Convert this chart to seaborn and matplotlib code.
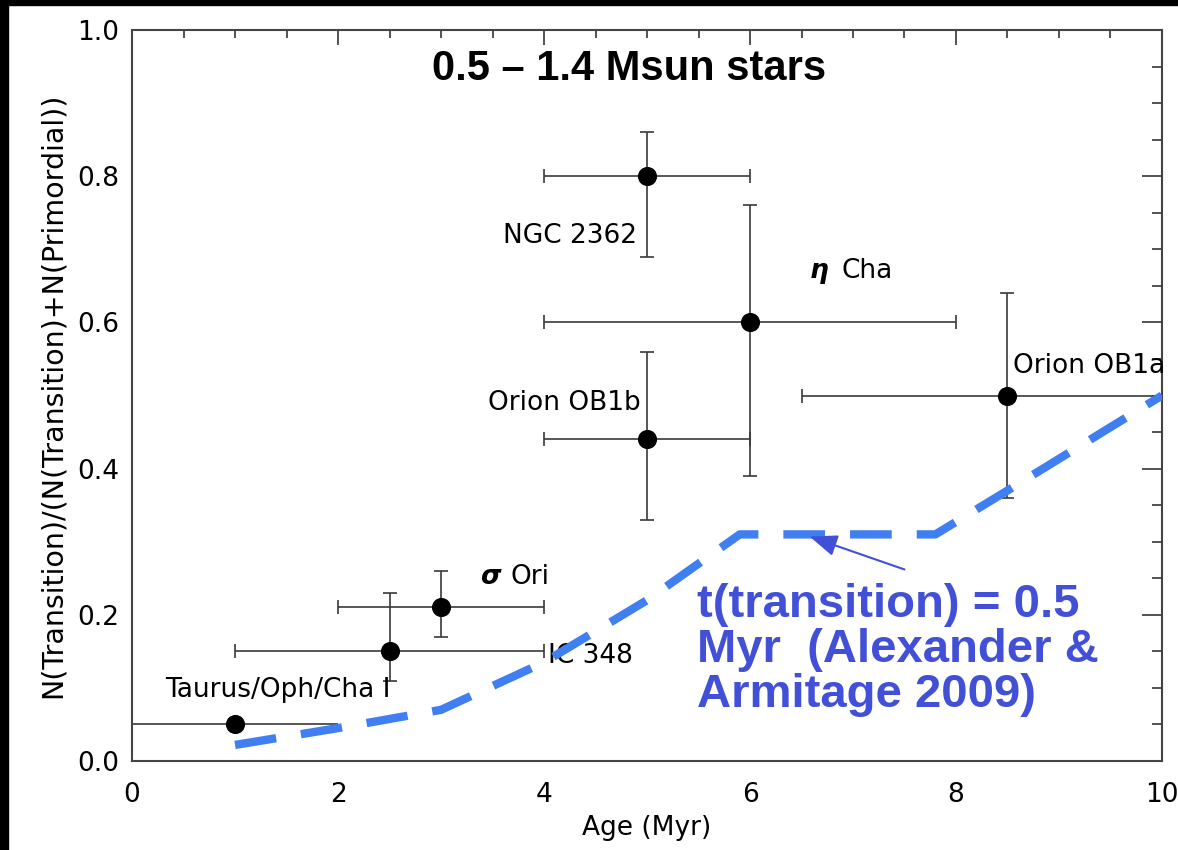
import matplotlib
matplotlib.use("Agg")
import matplotlib.pyplot as plt
from matplotlib.patches import Rectangle
from matplotlib.ticker import MultipleLocator
import seaborn as sns
import pandas as pd

# Observed clusters: age (Myr), transition-disk fraction and uncertainties
clusters = ["Taurus/Oph/Cha I", "IC 348", "σ Ori", "NGC 2362", "η Cha", "Orion OB1b", "Orion OB1a"]
age = [1.0, 2.5, 3.0, 5.0, 6.0, 5.0, 8.5]
frac = [0.05, 0.15, 0.21, 0.80, 0.60, 0.44, 0.50]
age_err = [1.0, 1.5, 1.0, 1.0, 2.0, 1.0, 2.0]
frac_err_lo = [0.008, 0.04, 0.04, 0.11, 0.21, 0.11, 0.14]
frac_err_hi = [0.008, 0.08, 0.05, 0.06, 0.16, 0.12, 0.14]

# Model curve for a 0.5 Myr transition timescale
model_age = [1.0, 2.0, 3.0, 4.0, 5.0, 5.9, 7.8, 8.5, 10.0]
model_frac = [0.022, 0.045, 0.07, 0.135, 0.22, 0.31, 0.31, 0.37, 0.50]

obs = pd.DataFrame({"cluster": clusters, "age": age, "frac": frac})
model = pd.DataFrame({"age": model_age, "frac": model_frac})

sns.set_theme(style="white")
plt.rcParams["font.family"] = ["DejaVu Sans"]
plt.rcParams["text.color"] = "black"
plt.rcParams["axes.labelcolor"] = "black"

fig = plt.figure(figsize=(11.78, 8.5), dpi=100, facecolor="white")
ax = fig.add_axes([0.1121, 0.1047, 0.8743, 0.8600])

err_col = "#3a3a3a"
# Taurus: horizontal bar without caps, small vertical bar with caps
ax.errorbar(age[0], frac[0], xerr=age_err[0], fmt="none", ecolor=err_col,
            elinewidth=1.2, capsize=0, zorder=2)
ax.errorbar(age[0], frac[0], yerr=[[frac_err_lo[0]], [frac_err_hi[0]]], fmt="none",
            ecolor=err_col, elinewidth=1.2, capsize=5, capthick=1.2, zorder=2)
ax.errorbar(age[1:], frac[1:], xerr=age_err[1:],
            yerr=[frac_err_lo[1:], frac_err_hi[1:]], fmt="none", ecolor=err_col,
            elinewidth=1.2, capsize=5, capthick=1.2, zorder=2)

sns.scatterplot(data=obs, x="age", y="frac", color="black", s=190,
                edgecolor="black", linewidth=0, ax=ax, zorder=3, legend=False)

sns.lineplot(data=model, x="age", y="frac", color="#3f7ff2", linewidth=6,
             ax=ax, zorder=4, legend=False, estimator=None, sort=False)
ax.lines[-1].set_dashes([5, 3])
ax.lines[-1].set_dash_capstyle("butt")

ax.set_xlim(0, 10)
ax.set_ylim(0, 1.0)
ax.xaxis.set_major_locator(MultipleLocator(2))
ax.xaxis.set_minor_locator(MultipleLocator(0.5))
ax.yaxis.set_major_locator(MultipleLocator(0.2))
ax.yaxis.set_minor_locator(MultipleLocator(0.05))
ax.xaxis.set_major_formatter(plt.FuncFormatter(lambda v, p: f"{v:.0f}"))
ax.yaxis.set_major_formatter(plt.FuncFormatter(lambda v, p: f"{v:.1f}"))

tick_col = "#444444"
ax.tick_params(axis="both", which="both", direction="in", top=True, right=True,
               color=tick_col, width=1.3, labelsize=19, labelcolor="black")
ax.tick_params(axis="y", which="major", length=14.5, pad=9)
ax.tick_params(axis="y", which="minor", length=7.2)
ax.tick_params(axis="x", which="major", length=11, pad=15)
ax.tick_params(axis="x", which="minor", length=5.5)
for sp in ax.spines.values():
    sp.set_color(tick_col)
    sp.set_linewidth(1.5)

ax.set_xlabel("Age (Myr)", fontsize=19, labelpad=5)
ax.set_ylabel("N(Transition)/(N(Transition)+N(Primordial))", fontsize=20.5, labelpad=8)

lab = dict(fontsize=19, color="black", va="center")
ax.text(0.32, 0.097, "Taurus/Oph/Cha I", ha="left", **lab)
ax.text(4.04, 0.144, "IC 348", ha="left", **lab)
ax.text(3.38, 0.252, "σ", ha="left", fontweight="bold", fontstyle="italic", **lab)
ax.text(3.67, 0.252, "Ori", ha="left", **lab)
ax.text(4.9, 0.718, "NGC 2362", ha="right", **lab)
ax.text(6.58, 0.67, "η", ha="left", fontweight="bold", fontstyle="italic", **lab)
ax.text(6.89, 0.67, "Cha", ha="left", **lab)
ax.text(4.94, 0.49, "Orion OB1b", ha="right", **lab)
ax.text(8.55, 0.541, "Orion OB1a", ha="left", **lab)

ax.text(0.483, 0.947, "0.5 – 1.4 Msun stars", transform=ax.transAxes, ha="center",
        va="center", fontsize=30, fontweight="bold", family="Liberation Sans",
        color="black")

note_col = "#4150d6"
ax.annotate("", xy=(6.58, 0.307), xytext=(7.5, 0.262),
            arrowprops=dict(arrowstyle="-|>,head_length=1.4,head_width=0.55",
                            color=note_col, lw=1.5, shrinkA=0, shrinkB=0), zorder=5)
ax.text(5.49, 0.152, "t(transition) = 0.5\nMyr  (Alexander &\nArmitage 2009)",
        ha="left", va="center", fontsize=34, fontweight="bold", color=note_col,
        family="Liberation Sans", linespacing=1.04)

# black band along the top and left edges of the canvas
fig.add_artist(Rectangle((0, 1 - 5 / 850), 1, 5 / 850, transform=fig.transFigure,
                         color="black", zorder=10))
fig.add_artist(Rectangle((0, 0), 8 / 1178, 1, transform=fig.transFigure,
                         color="black", zorder=10))

fig.savefig("out.png", dpi=100, facecolor="white")
